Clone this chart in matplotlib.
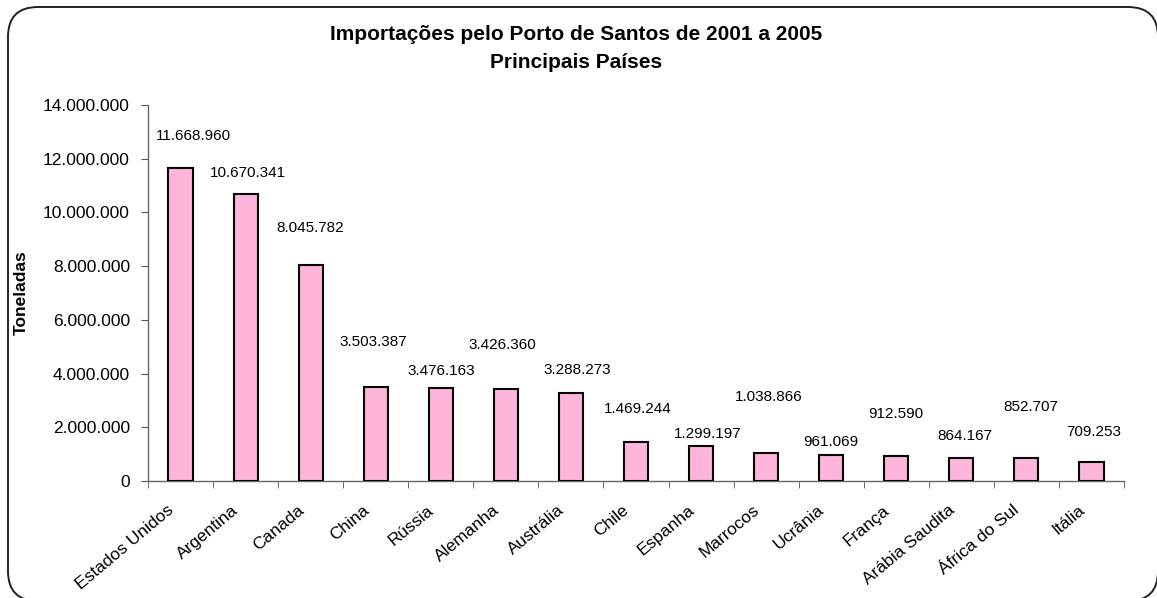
import matplotlib
matplotlib.use("Agg")
import matplotlib.pyplot as plt
import matplotlib.transforms as mtransforms
from matplotlib.patches import FancyBboxPatch
from matplotlib.ticker import FuncFormatter, MultipleLocator, FixedLocator, NullFormatter
import numpy as np

plt.rcParams['font.family'] = ['Liberation Sans', 'DejaVu Sans']

paises = ["Estados Unidos", "Argentina", "Canada", "China", "Rússia", "Alemanha",
          "Austrália", "Chile", "Espanha", "Marrocos", "Ucrânia", "França",
          "Arábia Saudita", "África do Sul", "Itália"]
toneladas = [11668960, 10670341, 8045782, 3503387, 3476163, 3426360,
             3288273, 1469244, 1299197, 1038866, 961069, 912590,
             864167, 852707, 709253]

# onde cada rótulo de valor foi arrastado (altura em toneladas, desvio em x)
rotulo_y = [12.85e6, 11.47e6, 9.42e6, 5.18e6, 4.10e6, 5.06e6, 4.13e6,
            2.68e6, 1.75e6, 3.13e6, 1.45e6, 2.50e6, 1.68e6, 2.76e6, 1.82e6]
rotulo_dx = [0.2, 0.03, 0.0, -0.04, 0.0, -0.05, 0.1,
             0.02, 0.1, 0.04, 0.0, 0.0, 0.05, 0.07, 0.04]


def milhar(v, pos=None):
    return f"{int(round(v)):,}".replace(",", ".")


fig = plt.figure(figsize=(11.57, 5.98), dpi=100)
ax = fig.add_axes([148 / 1157, 1 - 481 / 598, (1124 - 148) / 1157, (481 - 105) / 598])

x = np.arange(len(paises))
ax.bar(x, toneladas, width=0.37, color="#ffb5da", edgecolor="black", linewidth=1.5, zorder=3)

for i, v in enumerate(toneladas):
    ax.text(x[i] + rotulo_dx[i], rotulo_y[i], milhar(v), ha="center", va="center",
            fontsize=11, color="black")

ax.set_xlim(-0.5, len(paises) - 0.5)
ax.set_ylim(0, 14000000)
ax.yaxis.set_major_locator(MultipleLocator(2000000))
ax.yaxis.set_major_formatter(FuncFormatter(milhar))

# nomes dos países inclinados, logo abaixo do eixo
ax.set_xticks(x)
ax.xaxis.set_major_formatter(NullFormatter())
desloca = mtransforms.ScaledTranslation(-9 / 100, -27 / 100, fig.dpi_scale_trans)
for i, nome in enumerate(paises):
    ax.text(x[i], 0, nome, transform=ax.get_xaxis_transform() + desloca,
            rotation=40, ha="right", va="center", rotation_mode="anchor",
            fontsize=12.5, clip_on=False)

ax.xaxis.set_minor_locator(FixedLocator(np.arange(-0.5, len(paises), 1.0)))
ax.tick_params(axis="x", which="major", length=0)
ax.tick_params(axis="x", which="minor", length=5, color="#555555", direction="out")
ax.tick_params(axis="y", length=5, color="#555555", labelsize=12.5, pad=8)

for s in ("top", "right"):
    ax.spines[s].set_visible(False)
for s in ("left", "bottom"):
    ax.spines[s].set_color("#666666")
    ax.spines[s].set_linewidth(1.0)

ax.set_ylabel("Toneladas", fontsize=12.5, fontweight="bold", labelpad=10)
fig.text(576 / 1157, 1 - 34 / 598, "Importações pelo Porto de Santos de 2001 a 2005",
         ha="center", va="center", fontsize=15, fontweight="bold")
fig.text(576 / 1157, 1 - 62 / 598, "Principais Países",
         ha="center", va="center", fontsize=15, fontweight="bold")

# moldura arredondada do gráfico
moldura = FancyBboxPatch((0.08, -0.03), 11.50, 5.94,
                         boxstyle="round,pad=0,rounding_size=0.3",
                         transform=fig.dpi_scale_trans, facecolor="none",
                         edgecolor="#222222", linewidth=1.4)
fig.patches.append(moldura)

fig.savefig("out.png", dpi=100)
